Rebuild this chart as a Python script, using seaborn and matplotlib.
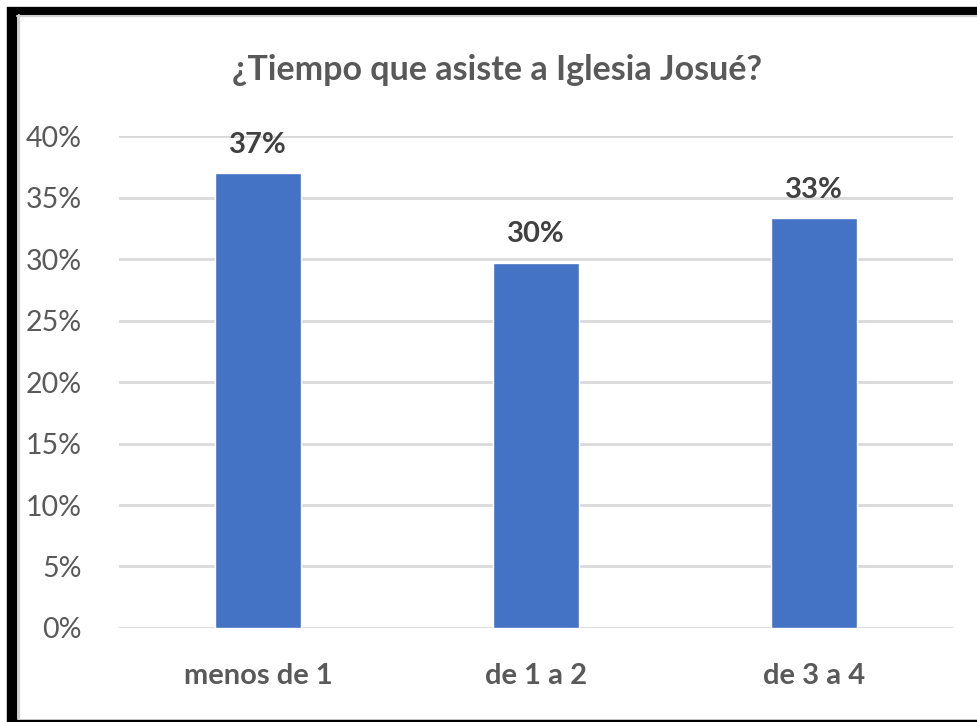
import numpy as np
import pandas as pd
import matplotlib
matplotlib.use("Agg")
import matplotlib.pyplot as plt
import seaborn as sns
from matplotlib.lines import Line2D

categorias = ["menos de 1", "de 1 a 2", "de 3 a 4"]
valores = [0.370, 0.297, 0.333]
ticks_y = [0, 0.05, 0.10, 0.15, 0.20, 0.25, 0.30, 0.35, 0.40]
etiquetas_y = ["0%", "5%", "10%", "15%", "20%", "25%", "30%", "35%", "40%"]
titulo = "¿Tiempo que asiste a Iglesia Josué?"

sns.set_theme(style="white")
plt.rcParams['font.family'] = ['Lato', 'DejaVu Sans']

df = pd.DataFrame({"cat": categorias, "val": valores})

fig = plt.figure(figsize=(9.78, 7.22), dpi=100)
ax = fig.add_axes([0.1217, 0.1302, 0.8527, 0.6814])

sns.barplot(data=df, x="cat", y="val", color="#4472C4", saturation=1,
            width=0.31, ax=ax, zorder=3)

ax.set_ylim(0, 0.40)
ax.set_xlim(-0.5, 2.5)
ax.set_yticks(ticks_y)
ax.set_yticklabels(etiquetas_y, fontsize=20.5, color="#595959")
ax.set_xticks(range(len(categorias)))
ax.set_xticklabels(categorias, fontsize=21, color="#595959", fontweight="bold")
ax.tick_params(axis="both", length=0)
ax.tick_params(axis="y", pad=27)
ax.tick_params(axis="x", pad=25)
ax.set_xlabel("")
ax.set_ylabel("")
ax.yaxis.grid(True, color="#d9d9d9", linewidth=2, zorder=0)
for s in ax.spines.values():
    s.set_visible(False)

for cont in ax.containers:
    ax.bar_label(cont, labels=[f"{v*100:.0f}%" for v in valores],
                 padding=11, fontsize=21, fontweight="bold", color="#404040")

fig.text(0.508, 0.903, titulo, ha="center", va="center", fontsize=24.5,
         fontweight="bold", color="#595959")

# marco
W, H = 978, 722
fig.add_artist(Line2D([12 / W, 12 / W], [0, 1 - 7 / H], color="black", linewidth=7.5,
                      transform=fig.transFigure, solid_capstyle="butt"))
fig.add_artist(Line2D([7 / W, 1], [1 - 11 / H, 1 - 11 / H], color="black", linewidth=6,
                      transform=fig.transFigure, solid_capstyle="butt"))
fig.add_artist(Line2D([7 / W, 1], [1.5 / H, 1.5 / H], color="black", linewidth=2.5,
                      transform=fig.transFigure, solid_capstyle="butt"))
fig.add_artist(Line2D([19 / W, 19 / W], [3 / H, 1 - 15 / H], color="#d0d0d0", linewidth=1.5,
                      transform=fig.transFigure))
fig.add_artist(Line2D([17 / W, 1], [1 - 16 / H, 1 - 16 / H], color="#d0d0d0", linewidth=1.5,
                      transform=fig.transFigure))

fig.savefig("out.png", dpi=100)
